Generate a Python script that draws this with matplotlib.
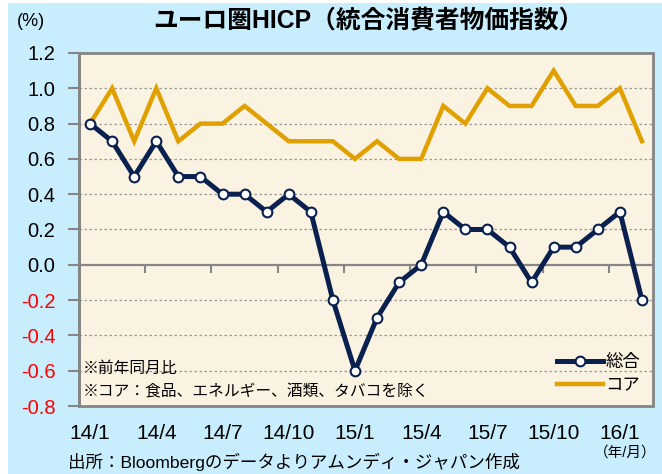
import numpy as np
import matplotlib.pyplot as plt
from matplotlib.patches import Rectangle
from matplotlib.transforms import blended_transform_factory

plt.rcParams['font.family'] = ['Liberation Sans', 'Noto Sans CJK JP', 'DejaVu Sans']

# data (YoY %), 2014/1 - 2016/2
months = ['14/1', '14/2', '14/3', '14/4', '14/5', '14/6', '14/7', '14/8', '14/9', '14/10', '14/11', '14/12',
          '15/1', '15/2', '15/3', '15/4', '15/5', '15/6', '15/7', '15/8', '15/9', '15/10', '15/11', '15/12',
          '16/1', '16/2']
headline = [0.8, 0.7, 0.5, 0.7, 0.5, 0.5, 0.4, 0.4, 0.3, 0.4, 0.3, -0.2,
            -0.6, -0.3, -0.1, 0.0, 0.3, 0.2, 0.2, 0.1, -0.1, 0.1, 0.1, 0.2,
            0.3, -0.2]
core = [0.8, 1.0, 0.7, 1.0, 0.7, 0.8, 0.8, 0.9, 0.8, 0.7, 0.7, 0.7,
        0.6, 0.7, 0.6, 0.6, 0.9, 0.8, 1.0, 0.9, 0.9, 1.1, 0.9, 0.9,
        1.0, 0.7]
label_months = ['14/1', '14/4', '14/7', '14/10', '15/1', '15/4', '15/7', '15/10', '16/1']
yticks = [1.2, 1.0, 0.8, 0.6, 0.4, 0.2, 0.0, -0.2, -0.4, -0.6, -0.8]

navy = '#0A2150'
gold = '#E0A100'
gray = '#858585'

fig = plt.figure(figsize=(6.62, 4.74), dpi=100, facecolor='white')
fig.patches.append(Rectangle((8 / 662, 0), 1, 1 - 3 / 474, transform=fig.transFigure,
                             facecolor='#C8EDFC', edgecolor='none', zorder=-10))

ax = fig.add_axes([79 / 662, 1 - 406 / 474, (653 - 79) / 662, (406 - 53) / 474])
ax.set_facecolor('#FBF3E1')

x = np.arange(len(months))
ax.plot(x, core, color=gold, lw=3.2, solid_joinstyle='miter', zorder=3, label='コア')
ax.plot(x, headline, color=navy, lw=3.6, marker='o', ms=7, mfc='white', mec=navy, mew=1.5,
        zorder=4, label='総合')

ax.set_xlim(-0.5, len(months) - 0.5)
ax.set_ylim(-0.8, 1.2)

# y axis
ax.set_yticks(yticks)
ax.set_yticklabels(['%.1f' % v for v in yticks], fontsize=14.5)
for lab, v in zip(ax.get_yticklabels(), yticks):
    lab.set_color('red' if v < 0 else 'black')
ax.tick_params(axis='y', direction='out', length=8, width=1.5, color=gray, pad=9)
for v in yticks:
    if v not in (0.0, -0.8, 1.2):
        ax.axhline(v, color='#999999', lw=0.9, ls=(0, (2, 2)), zorder=1)

# x axis at zero with boundary ticks every 3 months
for s in ['top', 'right']:
    ax.spines[s].set_visible(False)
ax.spines['left'].set_color(gray)
ax.spines['left'].set_linewidth(2)
ax.spines['bottom'].set_position(('data', 0))
ax.spines['bottom'].set_color(gray)
ax.spines['bottom'].set_linewidth(1.6)
ax.set_xticks(np.arange(-0.5, len(months), 3))
ax.set_xticklabels([])
ax.tick_params(axis='x', direction='out', length=6, width=1.5, color=gray)
ax.add_patch(Rectangle((0, 0), 1, 1, transform=ax.transAxes, fill=False,
                       edgecolor=gray, lw=2, clip_on=False, zorder=5))

trans = blended_transform_factory(ax.transData, ax.transAxes)
for m in label_months:
    ax.text(months.index(m), -0.077, m, transform=trans, ha='center', va='center', fontsize=15)

# notes inside the plot
ax.text(0.007, 0.107, '※前年同月比', transform=ax.transAxes, fontsize=11.3, va='center')
ax.text(0.007, 0.04, '※コア：食品、エネルギー、酒類、タバコを除く', transform=ax.transAxes,
        fontsize=11.3, va='center')

handles, labels = ax.get_legend_handles_labels()
leg = ax.legend(handles[::-1], labels[::-1], loc='lower right', bbox_to_anchor=(1.0, 0.0),
                frameon=False, fontsize=12.5, handlelength=2.7, handletextpad=0.1,
                labelspacing=0.45, borderaxespad=0.35)

# titles and footer
fig.text(368 / 662, 1 - 21 / 474, 'ユーロ圏HICP（統合消費者物価指数）', ha='center', va='center',
         fontsize=17.8, fontweight='bold')
fig.text(31 / 662, 1 - 22 / 474, '(%)', ha='center', va='center', fontsize=13)
fig.text(657 / 662, 1 - 453 / 474, '（年/月）', ha='right', va='center', fontsize=10.5)
fig.text(68 / 662, 1 - 462 / 474, '出所：Bloombergのデータよりアムンディ・ジャパン作成',
         ha='left', va='center', fontsize=12.6)

fig.savefig('out.png', dpi=100, facecolor=fig.get_facecolor())
